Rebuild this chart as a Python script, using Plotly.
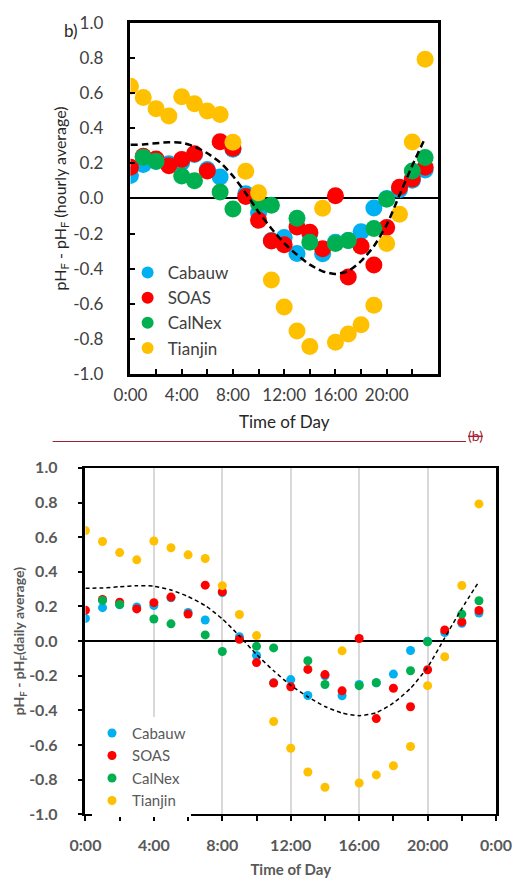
import plotly.graph_objects as go

W, H = 528, 882

# ---------------- data ----------------
hours = list(range(24))
cabauw = [0.131, 0.193, 0.21, 0.197, 0.205, 0.25, 0.165, 0.122, 0.28, 0.026, -0.083, -0.24,
          -0.222, -0.314, -0.2, -0.315, -0.25, -0.24, -0.19, -0.054, 0.0, 0.05, 0.103, 0.162]
soas = [0.178, 0.24, 0.225, 0.186, 0.222, 0.254, 0.156, 0.323, 0.285, 0.011, -0.124, -0.242,
        -0.263, -0.163, -0.193, -0.287, 0.015, -0.447, -0.272, -0.379, -0.165, 0.064, 0.111, 0.177]
calnex = [None, 0.235, 0.212, None, 0.128, 0.10, None, 0.036, -0.06, None, -0.03, -0.039,
          None, -0.113, -0.25, None, -0.257, -0.24, None, -0.171, -0.004, None, 0.156, 0.233]
tianjin = [0.638, 0.575, 0.511, 0.469, 0.578, 0.539, 0.498, 0.477, 0.32, 0.154, 0.032, -0.464,
           -0.618, -0.755, -0.843, -0.056, -0.819, -0.772, -0.719, -0.608, -0.257, -0.09, 0.321, 0.792]
fit = [0.305, 0.307, 0.314, 0.32, 0.317, 0.295, 0.257, 0.205, 0.128, 0.03, -0.077, -0.171,
       -0.255, -0.321, -0.377, -0.415, -0.43, -0.413, -0.357, -0.272, -0.15, 0.019, 0.188, 0.344]

series_names = ["Cabauw", "SOAS", "CalNex", "Tianjin"]
series_vals = [cabauw, soas, calnex, tianjin]
series_colors = ["#00B0F0", "#FF0000", "#00B050", "#FFC000"]

x_tickvals_top = [0, 4, 8, 12, 16, 20]
x_ticktext_top = ["0:00", "4:00", "8:00", "12:00", "16:00", "20:00"]
x_tickvals_bot = [0, 4, 8, 12, 16, 20, 24]
x_ticktext_bot = ["0:00", "4:00", "8:00", "12:00", "16:00", "20:00", "0:00"]
y_tickvals = [-1.0, -0.8, -0.6, -0.4, -0.2, 0.0, 0.2, 0.4, 0.6, 0.8, 1.0]
y_ticktext = ["-1.0", "-0.8", "-0.6", "-0.4", "-0.2", "0.0", "0.2", "0.4", "0.6", "0.8", "1.0"]

FONT = "Lato"
DARK = "#404040"
GREY = "#595959"

fig = go.Figure()

# ---------------- top panel ----------------
for name, vals, col in zip(series_names, series_vals, series_colors):
    fig.add_trace(go.Scatter(x=hours, y=vals, mode="markers", name=name,
                             marker=dict(color=col, size=17),
                             xaxis="x", yaxis="y", legend="legend"))
fig.add_trace(go.Scatter(x=hours, y=fit, mode="lines", showlegend=False,
                         line=dict(color="black", width=2.5, dash="7px,4px",
                                   shape="spline", smoothing=0.6),
                         xaxis="x", yaxis="y"))

# ---------------- bottom panel ----------------
for name, vals, col in zip(series_names, series_vals, series_colors):
    fig.add_trace(go.Scatter(x=hours, y=vals, mode="markers", name=name,
                             marker=dict(color=col, size=9),
                             xaxis="x2", yaxis="y2", legend="legend2"))
fig.add_trace(go.Scatter(x=hours, y=fit, mode="lines", showlegend=False,
                         line=dict(color="black", width=1.5, dash="4px,3px",
                                   shape="spline", smoothing=0.6),
                         xaxis="x2", yaxis="y2"))

top_dom_x = [121 / W, 449 / W]
top_dom_y = [1 - 372 / H, 1 - 12 / H]
bot_dom_x = [73 / W, 511 / W]
bot_dom_y = [1 - 823 / H, 1 - 468 / H]

fig.update_layout(
    width=W, height=H,
    margin=dict(l=0, r=0, t=0, b=0),
    paper_bgcolor="white", plot_bgcolor="white",
    font=dict(family=FONT, color=DARK),
    xaxis=dict(domain=top_dom_x, anchor="y", range=[0, 24],
               tickvals=x_tickvals_top, ticktext=x_ticktext_top,
               ticks="inside", ticklen=5, tickwidth=2, tickcolor="black",
               ticklabelstandoff=4,
               minor=dict(dtick=2, tick0=0, ticks="inside", ticklen=5, tickwidth=2,
                          tickcolor="black", showgrid=False),
               showline=True, linewidth=2.5, linecolor="black", mirror=True,
               showgrid=False, zeroline=False,
               tickfont=dict(family=FONT, size=17, color=DARK),
               title=dict(text="Time of Day", font=dict(family=FONT, size=17, color="#262626"),
                          standoff=12)),
    yaxis=dict(domain=top_dom_y, anchor="x", range=[-1, 1],
               tickvals=y_tickvals, ticktext=y_ticktext,
               ticks="inside", ticklen=5, tickwidth=2, tickcolor="black",
               ticklabelstandoff=21,
               showline=True, linewidth=2.5, linecolor="black", mirror=True,
               showgrid=False, zeroline=True, zerolinecolor="black", zerolinewidth=2,
               tickfont=dict(family=FONT, size=17, color=DARK),
               title=dict(text="pH<sub>F</sub> - pH<sub>F</sub> (hourly average)",
                          font=dict(family=FONT, size=16, color="#262626"), standoff=3)),
    xaxis2=dict(domain=bot_dom_x, anchor="y2", range=[0, 24],
                tickvals=x_tickvals_bot, ticktext=x_ticktext_bot,
                ticks="outside", ticklen=5, tickwidth=2, tickcolor="black",
                ticklabelstandoff=10,
                minor=dict(dtick=2, tick0=0, ticks="outside", ticklen=5, tickwidth=2,
                           tickcolor="black", showgrid=False),
                showline=True, linewidth=2, linecolor="black", mirror=True,
                showgrid=True, gridcolor="#D9D9D9", gridwidth=1.5, zeroline=False,
                tickfont=dict(family=FONT, size=16, color=GREY, weight="bold"),
                title=dict(text="<b>Time of Day</b>", font=dict(family=FONT, size=15, color=GREY),
                           standoff=12)),
    yaxis2=dict(domain=bot_dom_y, anchor="x2", range=[-1, 1],
                tickvals=y_tickvals, ticktext=y_ticktext,
                ticks="outside", ticklen=5, tickwidth=2, tickcolor="black",
                ticklabelstandoff=17,
                showline=True, linewidth=2.5, linecolor="black", mirror=True,
                showgrid=False, zeroline=True, zerolinecolor="black", zerolinewidth=2,
                tickfont=dict(family=FONT, size=16, color=GREY, weight="bold"),
                title=dict(text="<b>pH<sub>F</sub> - pH<sub>F</sub>(daily average)</b>",
                           font=dict(family=FONT, size=14, color=GREY), standoff=0)),
    legend=dict(x=118 / W, y=1 - 250 / H, xanchor="left", yanchor="top",
                bgcolor="rgba(0,0,0,0)", itemsizing="constant",
                font=dict(family=FONT, size=17, color=DARK)),
    legend2=dict(x=80 / W, y=1 - 723 / H, xanchor="left", yanchor="top",
                 bgcolor="white", itemsizing="trace",
                 font=dict(family=FONT, size=15, color=GREY)),
    showlegend=True,
)

fig.add_annotation(x=58 / W, y=1 - 20 / H, xref="paper", yref="paper",
                   text="b)", showarrow=False, xanchor="center", yanchor="middle",
                   font=dict(family=FONT, size=17, color="#262626"))
fig.add_shape(type="line", xref="paper", yref="paper",
              x0=38 / W, x1=479 / W, y0=1 - 441 / H, y1=1 - 441 / H,
              line=dict(color="#A31F34", width=1))
fig.add_annotation(x=489 / W, y=1 - 435 / H, xref="paper", yref="paper",
                   text="<s>(b)</s>", showarrow=False, xanchor="center", yanchor="middle",
                   font=dict(family=FONT, size=14, color="#A31F34"))

fig.write_html("out.html")
